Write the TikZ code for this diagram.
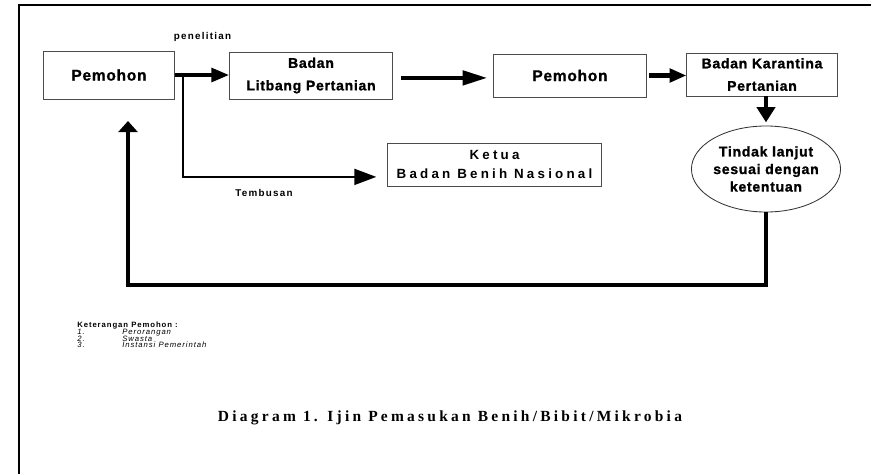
\documentclass[tikz,border=0pt]{standalone}
\usepackage{fontspec}
\setmainfont{Liberation Serif}
\newfontfamily\boxfont[LetterSpace=5,FakeBold=1.2]{Liberation Sans}
\newfontfamily\wideboxfont[LetterSpace=24]{Liberation Sans}
\newfontfamily\notefont[LetterSpace=13]{Liberation Sans}
\newfontfamily\smallfont[LetterSpace=12]{Liberation Sans}
\newfontfamily\captionfont[LetterSpace=21]{Liberation Serif}
\usetikzlibrary{arrows.meta,shapes.geometric}

\tikzset{
    box/.style={draw=black!70, line width=0.7pt, inner sep=0pt, align=center,
        font=\boxfont\bfseries\fontsize{10}{16}\selectfont},
    applicant/.style={box, font=\boxfont\bfseries\fontsize{11}{16}\selectfont},
    widebox/.style={box, font=\wideboxfont\bfseries\fontsize{9.5}{13.5}\selectfont},
    oval/.style={ellipse, draw=black!80, line width=0.6pt, inner sep=0pt, align=center,
        font=\boxfont\bfseries\fontsize{10}{12.5}\selectfont},
    notelabel/.style={font=\notefont\bfseries\fontsize{7}{8}\selectfont},
    keterangan/.style={anchor=base west, inner sep=0pt, font=\smallfont\fontsize{5.5}{6}\selectfont},
    mainarrow/.style={line width=3.2pt},
    thinarrow/.style={line width=1.4pt}
}

\begin{document}
\begin{tikzpicture}[x=0.025cm, y=-0.025cm]
    \useasboundingbox (0,0) rectangle (871,474);

    % Page frame (left and top edges)
    \draw[line width=1.8pt] (19,474) -- (19,5) -- (871,5);

    % Top row of boxes
    \node[applicant, minimum width=3.25cm, minimum height=1.2cm] (pemohonA) at (109,75) {Pemohon};
    \node[box, minimum width=4.05cm, minimum height=1.175cm] (litbang) at (311,75.5) {Badan\\Litbang Pertanian};
    \node[applicant, minimum width=3.8cm, minimum height=1.075cm] (pemohonB) at (570,75.5) {Pemohon};
    \node[box, minimum width=3.75cm, minimum height=1.075cm] (karantina) at (762,74.5) {Badan Karantina\\Pertanian};

    % Copy recipient
    \node[widebox, minimum width=5.325cm, minimum height=1.075cm] (ketua) at (494.5,164.5) {Ketua\\Badan Benih Nasional};

    % Follow-up ellipse
    \node[oval, minimum width=3.7cm, minimum height=2.15cm] (tindak) at (766,169) {Tindak lanjut\\sesuai dengan\\ketentuan};

    % Arrows along the top row
    \coordinate (split) at (183,75);
    \draw[mainarrow, -{Triangle[length=0.45cm,width=0.33cm]}] (pemohonA.east) -- (pemohonA.east -| litbang.west);
    \draw[mainarrow, -{Triangle[length=0.62cm,width=0.35cm]}, shorten <=0.2cm, shorten >=0.15cm]
        ([yshift=-0.06cm]litbang.east) -- ([yshift=-0.06cm]litbang.east -| pemohonB.west);
    \draw[mainarrow, -{Triangle[length=0.42cm,width=0.33cm]}, shorten <=0.05cm] (pemohonB.east) -- (pemohonB.east -| karantina.west);
    \draw[mainarrow, -{Triangle[length=0.38cm,width=0.45cm]}, shorten >=0.08cm] (karantina.south -| tindak.north) -- (tindak.north);

    % Branch to the copy recipient
    \draw[thinarrow, -{Triangle[length=0.55cm,width=0.4cm]}, shorten >=0.28cm] (split) |- ([yshift=-0.31cm]ketua.west);

    % Return line back to the applicant
    \coordinate (backtip) at (128,121);
    \draw[mainarrow, -{Triangle[length=0.28cm,width=0.48cm]}] (tindak.south) -- (tindak.south |- 0,285) -| (backtip);

    % Arrow labels
    \node[notelabel] (penelitian) at (202.5,37) {penelitian};
    \node[notelabel] (tembusan) at (264,193) {Tembusan};

    % Notes on applicants
    \node[keterangan] (ketHead) at (77,327) {\bfseries Keterangan Pemohon :};
    \node[keterangan] (numA) at (77,334.5) {\itshape 1.};
    \node[keterangan] (itemA) at (122,334.5) {\itshape Perorangan};
    \node[keterangan] (numB) at (77,341) {\itshape 2.};
    \node[keterangan] (itemB) at (122,341) {\itshape Swasta};
    \node[keterangan] (numC) at (77,347.5) {\itshape 3.};
    \node[keterangan] (itemC) at (122,347.5) {\itshape Instansi Pemerintah};

    % Caption
    \node[font=\captionfont\bfseries\fontsize{11}{12}\selectfont] (caption) at (450,418) {Diagram 1. Ijin Pemasukan Benih/Bibit/Mikrobia};
\end{tikzpicture}
\end{document}
